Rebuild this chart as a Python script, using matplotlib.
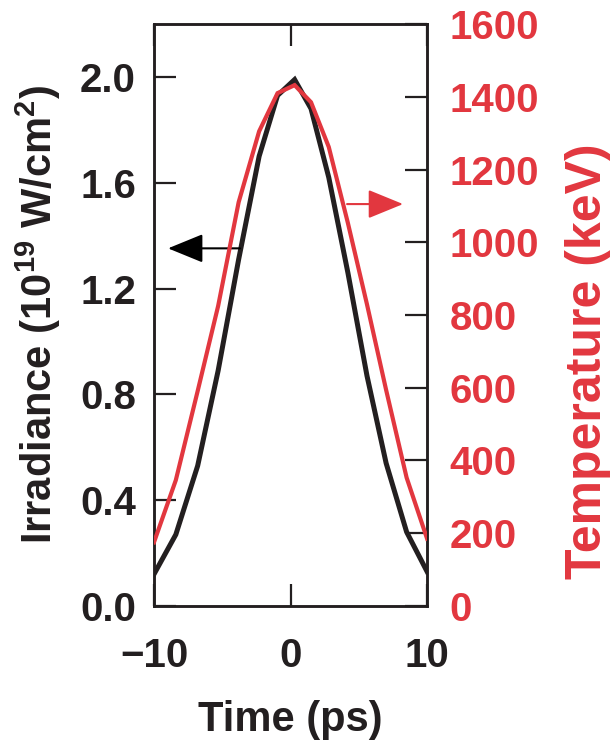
import matplotlib
matplotlib.use("Agg")
import matplotlib.pyplot as plt

plt.rcParams['font.family'] = ['Liberation Sans', 'DejaVu Sans']
plt.rcParams['font.weight'] = 'bold'
plt.rcParams['mathtext.fontset'] = 'custom'
plt.rcParams['mathtext.rm'] = 'Liberation Sans:bold'
plt.rcParams['mathtext.bf'] = 'Liberation Sans:bold'

# Data
time_ps = [-10, -8.4, -6.8, -5.3, -3.8, -2.3, -0.95, 0.3, 1.5, 2.8, 4.2, 5.6, 7.0, 8.5, 10]
irradiance = [0.12, 0.27, 0.53, 0.89, 1.31, 1.70, 1.93, 1.99, 1.88, 1.62, 1.26, 0.87, 0.54, 0.28, 0.13]
temperature = [175, 346, 591, 825, 1110, 1305, 1410, 1432, 1385, 1262, 1053, 829, 594, 353, 185]

x_ticks = [-10, 0, 10]
left_ticks = [0.0, 0.4, 0.8, 1.2, 1.6, 2.0]
right_ticks = [0, 200, 400, 600, 800, 1000, 1200, 1400, 1600]

RED = '#E2373F'
BLACK = '#231F20'

fig = plt.figure(figsize=(6.11, 7.44), dpi=100)
ax = fig.add_axes([0.252, 0.1855, 0.447, 0.7822])
ax2 = ax.twinx()

ax.plot(time_ps, irradiance, color=BLACK, lw=3.6, solid_joinstyle='miter', zorder=3)
ax2.plot(time_ps, temperature, color=RED, lw=3.0, solid_joinstyle='miter', zorder=3)

ax.set_xlim(-10, 10)
ax.set_ylim(0, 2.2)
ax2.set_ylim(0, 1600)

ax.set_xticks(x_ticks)
ax.set_xticklabels(['\u221210', '0', '10'])
ax.set_yticks(left_ticks)
ax.set_yticklabels([f'{v:.1f}' for v in left_ticks])
ax2.set_yticks(right_ticks)

fs = 29
ax.tick_params(axis='x', direction='in', length=16, width=1.6, top=True, bottom=True,
               labelsize=fs, pad=22, colors=BLACK)
ax.tick_params(axis='y', direction='in', length=16, width=1.6, left=True, right=False,
               labelsize=fs, pad=13, colors=BLACK)
ax2.tick_params(axis='y', direction='in', length=16, width=1.6, labelsize=fs, pad=16,
                color=BLACK, labelcolor=RED)

for sp in list(ax.spines.values()) + list(ax2.spines.values()):
    sp.set_linewidth(1.8)
    sp.set_color(BLACK)

ax.set_xlabel('Time (ps)', fontsize=30, fontweight='bold', labelpad=18, color=BLACK)
ax.set_ylabel('Irradiance (10$^{19}$ W/cm$^{2}$)', fontsize=30, fontweight='bold',
              labelpad=12, color=BLACK)
ax2.set_ylabel('Temperature (keV)', fontsize=36, fontweight='bold', color=RED)
ax2.yaxis.set_label_coords(1.505, 0.42)

# Arrows indicating the axis each curve belongs to
ax.annotate('', xy=(-8.97, 1.352), xytext=(-3.7, 1.352),
            arrowprops=dict(arrowstyle='-|>,head_length=1.1,head_width=0.45',
                            color='black', lw=1.5, mutation_scale=20,
                            shrinkA=0, shrinkB=0), zorder=4)
ax2.annotate('', xy=(8.24, 1105), xytext=(4.14, 1105),
             arrowprops=dict(arrowstyle='-|>,head_length=1.1,head_width=0.45',
                             color=RED, lw=1.5, mutation_scale=20,
                             shrinkA=0, shrinkB=0), zorder=4)

fig.savefig('out.png', dpi=100)
